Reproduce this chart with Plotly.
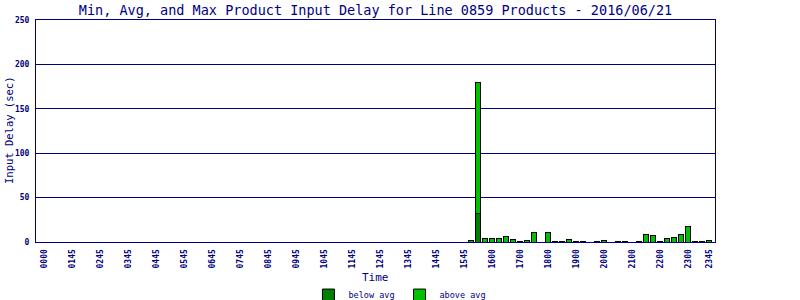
import plotly.graph_objects as go

# 15-minute time slots of the day (category axis)
hours = ["00","01","02","03","04","05","06","07","08","09","10","11",
         "12","13","14","15","16","17","18","19","20","21","22","23"]
quarters = ["00","15","30","45"]
slots = [h + q for h in hours for q in quarters]

# slots that have data
times = ["1515","1530","1545","1600","1615","1630","1645","1700","1715","1730",
         "1800","1815","1830","1845","1900","1915","1945","2000","2030","2045",
         "2115","2130","2145","2200","2215","2230","2245","2300","2315","2330","2345"]
avg_delay = [0, 32, 0, 0, 0, 0, 0, 0, 0, 0,
             0, 0, 0, 0, 0, 0, 0, 0, 0, 0,
             0, 0, 0, 0, 0, 0, 0, 0, 0, 0, 0]
max_delay = [2, 180, 4, 4, 4, 6, 3, 1, 2, 11,
             11, 1, 1, 3, 1, 1, 1, 2, 1, 1,
             1, 9, 7, 1, 4, 5, 9, 17, 1, 1, 2]
above_avg = [m - a for m, a in zip(max_delay, avg_delay)]

tick_vals = ["0000","0100","0200","0300","0400","0500","0600","0700","0800","0900",
             "1000","1100","1200","1300","1400","1500","1600","1700","1800","1900",
             "2000","2100","2200","2300","2345"]
tick_text = ["0000","0145","0245","0345","0445","0545","0645","0745","0845","0945",
             "1045","1145","1245","1345","1445","1545","1600","1700","1800","1900",
             "2000","2100","2200","2300","2345"]
y_ticks = [0, 50, 100, 150, 200, 250]

NAVY = "#000080"
MONO = "DejaVu Sans Mono"

fig = go.Figure()
fig.add_trace(go.Bar(x=times, y=avg_delay, name="below avg",
                     marker=dict(color="#008000", line=dict(color="black", width=1))))
fig.add_trace(go.Bar(x=times, y=above_avg, name="above avg",
                     marker=dict(color="#00C000", line=dict(color="black", width=1))))

fig.update_layout(
    width=800, height=300,
    margin=dict(l=36, r=85, t=20, b=58, autoexpand=False),
    paper_bgcolor="white", plot_bgcolor="white",
    barmode="stack", bargap=0.2,
    title=dict(text="Min, Avg, and Max Product Input Delay for Line 0859 Products - 2016/06/21",
               font=dict(family=MONO, size=13.5, color=NAVY),
               x=0.5, xref="paper", xanchor="center",
               y=1 - 10/300, yref="container", yanchor="middle"),
    xaxis=dict(type="category", categoryorder="array", categoryarray=slots,
               range=[-1.14, 95.86], automargin=False,
               tickmode="array", tickvals=tick_vals, ticktext=tick_text,
               tickangle=-90, tickfont=dict(family=MONO, size=8, color=NAVY, weight="bold"),
               showgrid=False, showline=True, linecolor=NAVY, linewidth=1, mirror=True,
               ticks="", ticklabelstandoff=3, zeroline=False),
    yaxis=dict(range=[0, 250], tickvals=y_ticks, automargin=False,
               tickfont=dict(family=MONO, size=8, color=NAVY, weight="bold"),
               showgrid=True, gridcolor=NAVY, gridwidth=1,
               showline=True, linecolor=NAVY, linewidth=1, mirror=True,
               ticks="", ticklabelstandoff=4, zeroline=False),
    showlegend=True,
    legend=dict(orientation="h", x=0.536, xanchor="center", y=-0.239, yanchor="middle",
                font=dict(family=MONO, size=8.5, color=NAVY),
                itemwidth=30, tracegroupgap=0, traceorder="normal"),
    annotations=[
        dict(text="Time", x=0.5, xref="paper", y=-35/222, yref="paper",
             xanchor="center", yanchor="middle", showarrow=False,
             font=dict(family=MONO, size=11, color=NAVY)),
        dict(text="Input Delay (sec)", x=-27/679, xref="paper", y=0.5, yref="paper",
             textangle=-90, xanchor="center", yanchor="middle", showarrow=False,
             font=dict(family=MONO, size=10.5, color=NAVY)),
    ],
)

fig.write_html("out.html")
